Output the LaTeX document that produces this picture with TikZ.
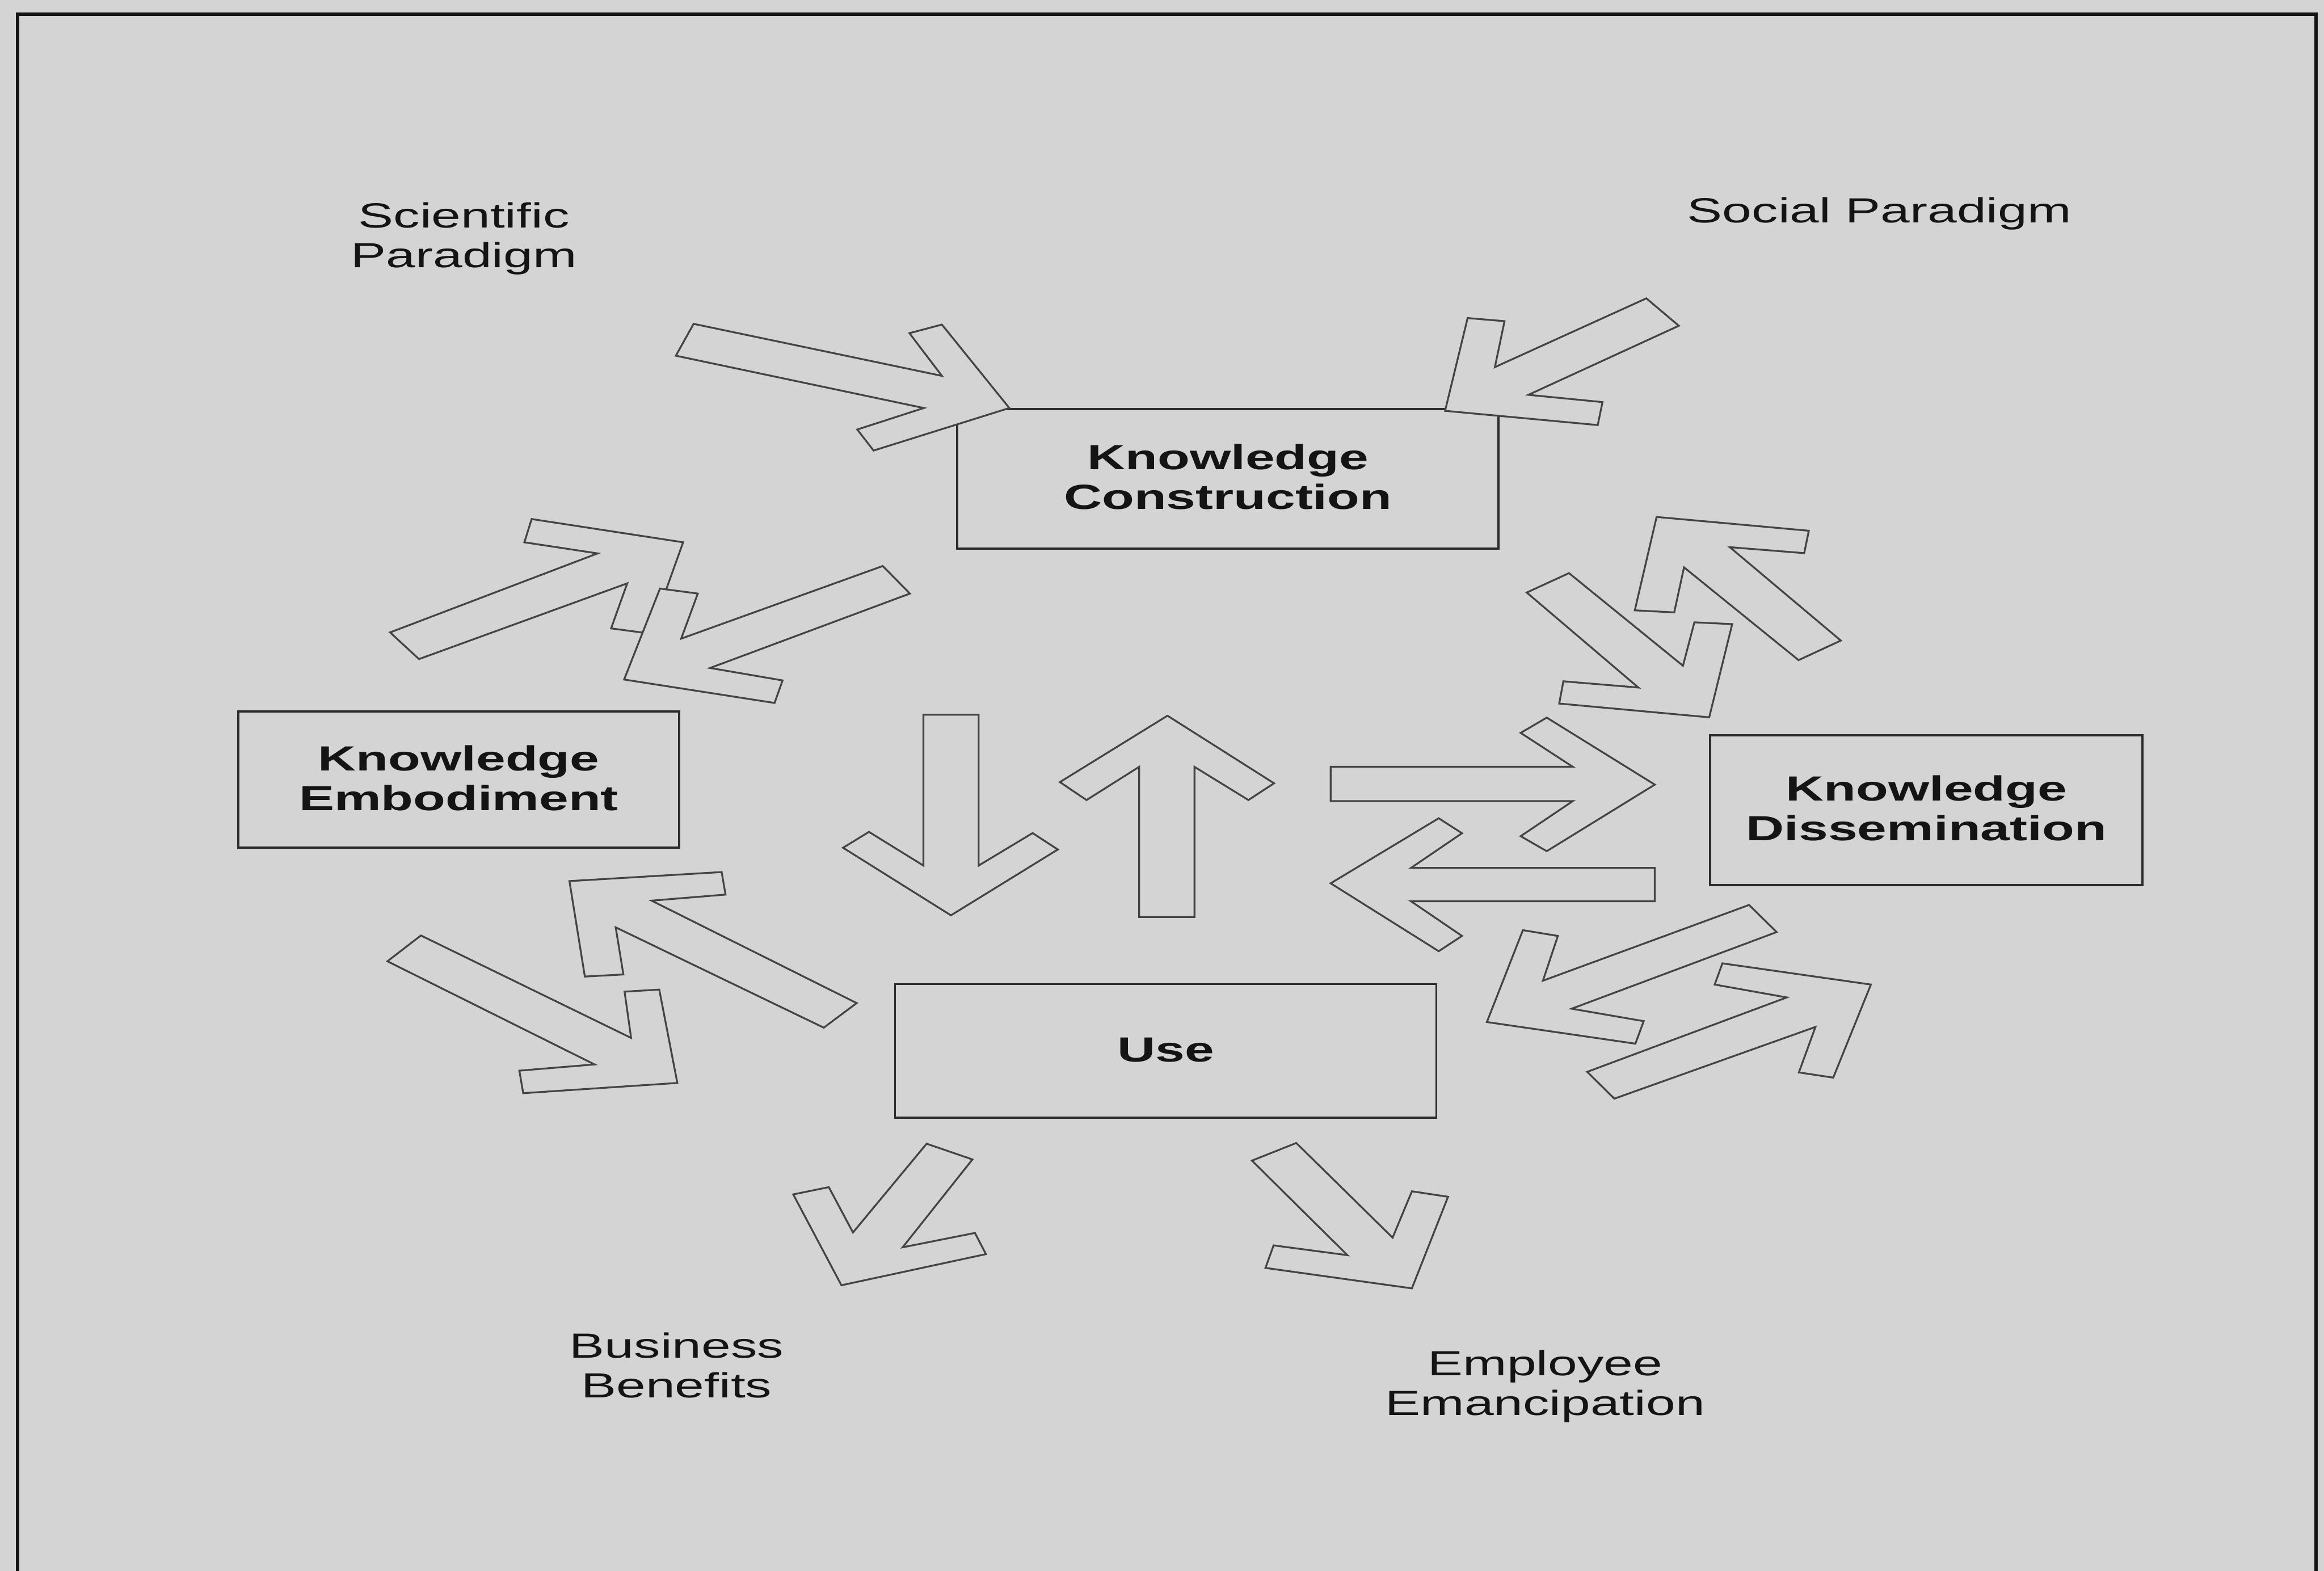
\documentclass[tikz,border=0pt]{standalone}
\usepackage{fontspec}
\setmainfont{Liberation Sans}
\usepackage{graphicx}
\definecolor{paper}{RGB}{212,212,212}
\definecolor{ink}{RGB}{20,20,20}
\definecolor{edge}{RGB}{68,68,68}
\newcommand{\wide}[1]{\scalebox{1.51}[1]{\begin{tabular}{@{}c@{}}#1\end{tabular}}}
\newcommand{\lowered}[1]{\raisebox{0pt}[\dimexpr\height+1.1pt\relax][\depth]{#1}}

\begin{document}
\begin{tikzpicture}[x=0.01cm, y=-0.01cm,
  blockarrow/.style={fill=paper, draw=edge, line width=0.35pt, line join=miter},
  kbox/.style={draw=ink!90, line width=0.42pt, inner sep=0pt, outer sep=0pt, font=\fontsize{6.7pt}{7.63pt}\selectfont\bfseries, text=ink},
  lbl/.style={inner sep=0pt, font=\fontsize{6.7pt}{7.63pt}\selectfont, text=ink}]
\fill[paper] (0,0) rectangle (1568,1060);
\useasboundingbox (0,0) rectangle (1568,1060);
\draw[ink, line width=0.65pt] (11.7,1060) -- (11.7,9.5) -- (1562.6,9.5) -- (1562.6,1060);

\node[kbox, minimum width=3.65cm, minimum height=0.94cm] (con) at (828.5,323) {\lowered{\wide{Knowledge\\Construction}}};
\node[kbox, minimum width=2.97cm, minimum height=0.92cm] (emb) at (309.5,526) {\lowered{\wide{Knowledge\\Embodiment}}};
\node[kbox, minimum width=2.915cm, minimum height=1.01cm] (dis) at (1299.75,546.5) {\lowered{\wide{Knowledge\\Dissemination}}};
\node[kbox, minimum width=3.65cm, minimum height=0.90cm] (use) at (786.5,709) {\lowered{\wide{Use}}};

\draw[blockarrow] (468,218.5) -- (635.5,253.6) -- (613.6,224.8) -- (635.5,219) -- (681,275.3) -- (589.4,304) -- (578.4,289.8) -- (623.3,275.3) -- (456,240) -- cycle;
\draw[blockarrow] (1110.8,201.3) -- (1008.6,247.7) -- (1015.1,216.7) -- (990.2,214.6) -- (975,277.2) -- (1078,286.8) -- (1081.2,271.3) -- (1031.2,266.4) -- (1132.7,219.8) -- cycle;
\draw[blockarrow] (263.2,426.7) -- (403.2,373.4) -- (353.8,365.9) -- (358.7,350.2) -- (460.9,365.9) -- (438.8,427.5) -- (412.3,424) -- (423.2,393.6) -- (282.7,444.7) -- cycle;
\draw[blockarrow] (595.6,381.9) -- (459.6,430.9) -- (470.8,400.5) -- (445.3,397.1) -- (421.1,458.5) -- (522.6,474.3) -- (528,459.1) -- (479.1,450.7) -- (613.9,400.5) -- cycle;
\draw[blockarrow] (1030.1,399.8) -- (1058.6,386.7) -- (1135.5,449.2) -- (1143.2,419.9) -- (1168.7,421.1) -- (1153.2,484) -- (1052,474.7) -- (1054.8,459.7) -- (1105.4,463.9) -- cycle;
\draw[blockarrow] (1117.7,348.8) -- (1220.4,358.1) -- (1217.3,373.2) -- (1167.1,369.2) -- (1242,432.2) -- (1213.5,445.4) -- (1136.2,382.8) -- (1129.6,413.2) -- (1103,411.8) -- cycle;
\draw[blockarrow] (623,482.2) -- (660.3,482.2) -- (660.3,584) -- (696.7,562.1) -- (713.7,573.2) -- (641.6,617.6) -- (568.8,572) -- (586.3,561.3) -- (623,584) -- cycle;
\draw[blockarrow] (787.7,482.9) -- (859.6,528.5) -- (842.3,539.8) -- (805.9,517.4) -- (805.9,618.7) -- (768.6,618.7) -- (768.6,517.4) -- (733.1,539.8) -- (715.1,527.7) -- cycle;
\draw[blockarrow] (897.8,517.4) -- (1061.2,517.4) -- (1026,494.5) -- (1043.6,484.2) -- (1116.5,529.4) -- (1043.6,574.3) -- (1026,564.2) -- (1061.2,540.5) -- (897.8,540.5) -- cycle;
\draw[blockarrow] (897.8,596) -- (970.7,552.1) -- (986.4,562.2) -- (952,585.6) -- (1116.5,585.6) -- (1116.5,608.1) -- (952,608.1) -- (986.4,631.5) -- (970.7,641.8) -- cycle;
\draw[blockarrow] (384.2,594.5) -- (486.9,588.4) -- (489.5,603.6) -- (439.6,607.7) -- (578,676.8) -- (555.8,693.4) -- (415.4,625.7) -- (420.6,657.5) -- (394.6,658.9) -- cycle;
\draw[blockarrow] (261.4,648.6) -- (284,631.2) -- (425.8,700.3) -- (421.4,669.1) -- (444.8,667.7) -- (457,730.7) -- (353,737.6) -- (350.4,722.4) -- (401.1,718.2) -- cycle;
\draw[blockarrow] (1180.1,610.6) -- (1041,661.7) -- (1051.1,631.5) -- (1027.5,627.6) -- (1003.2,689.6) -- (1103.4,704.2) -- (1109,689) -- (1060.4,680.6) -- (1198.7,628.9) -- cycle;
\draw[blockarrow] (1070.9,723.2) -- (1205.5,673) -- (1156.9,664.3) -- (1162.1,650) -- (1262.3,664.3) -- (1236.9,727.1) -- (1213.7,723.6) -- (1224.9,692.9) -- (1089.2,741.3) -- cycle;
\draw[blockarrow] (625.2,771.7) -- (575.5,831.6) -- (559.2,801) -- (535.2,805.9) -- (567.7,867.2) -- (665.2,846.2) -- (657.8,831.9) -- (609,841.6) -- (656.1,782.3) -- cycle;
\draw[blockarrow] (874.6,771.2) -- (939.6,835.1) -- (952.6,803.8) -- (977,807.5) -- (952.6,869.3) -- (853.8,855.5) -- (859.3,840.3) -- (909.1,846.9) -- (844.7,783.1) -- cycle;

\node[lbl] (sci) at (313,161.6) {\wide{Scientific\\Paradigm}};
\node[lbl] (soc) at (1268,144.8) {\wide{Social Paradigm}};
\node[lbl] (bus) at (456.5,924.3) {\wide{Business\\Benefits}};
\node[lbl] (emp) at (1042.5,936.3) {\wide{Employee\\Emancipation}};
\end{tikzpicture}
\end{document}
